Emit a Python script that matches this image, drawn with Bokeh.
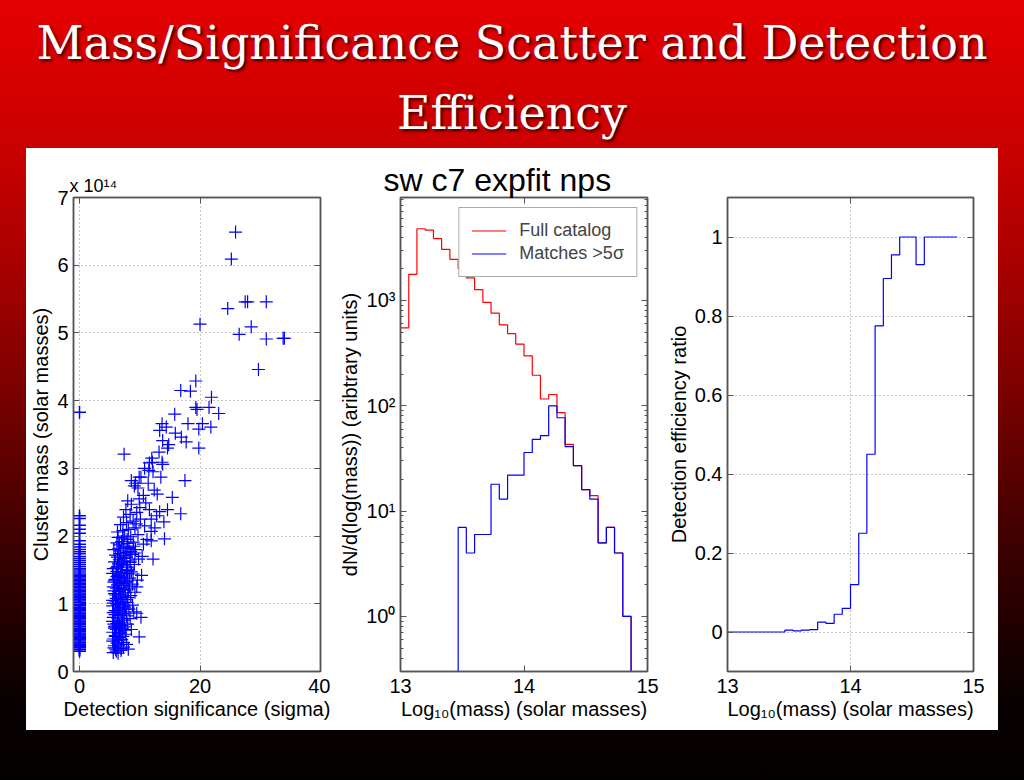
from bokeh.plotting import figure
from bokeh.layouts import column, row
from bokeh.models import (Div, Spacer, FixedTicker, Range1d, LinearAxis, LogAxis,
                          Legend, LegendItem, Title, CustomJSTickFormatter,
                          GlobalInlineStyleSheet)
from bokeh.embed import file_html
from bokeh.resources import INLINE

# ---------------- data ----------------
# Panel 1: clusters with zero detection significance (mass in 1e14 Msun)
zero_sig_mass = [0.30, 0.32, 0.33, 0.35, 0.37, 0.38, 0.40, 0.42, 0.43, 0.45, 0.47, 0.49,
                 0.50, 0.52, 0.54, 0.55, 0.57, 0.59, 0.61, 0.62, 0.64, 0.66, 0.67, 0.69,
                 0.71, 0.73, 0.74, 0.76, 0.78, 0.80, 0.81, 0.83, 0.85, 0.86, 0.88, 0.90,
                 0.92, 0.93, 0.95, 0.97, 0.99, 1.00, 1.02, 1.04, 1.06, 1.07, 1.09, 1.11,
                 1.13, 1.14, 1.16, 1.18, 1.20, 1.22, 1.24, 1.26, 1.28, 1.30, 1.32, 1.34,
                 1.36, 1.38, 1.40, 1.42, 1.44, 1.47, 1.50, 1.52, 1.55, 1.58, 1.61, 1.64,
                 1.67, 1.70, 1.74, 1.77, 1.80, 1.84, 1.88, 1.93, 2.04, 2.10, 2.16, 2.26,
                 2.30, 3.83]

# Panel 1: detected clusters (significance in sigma, mass in 1e14 Msun)
det_sigma = [5.6, 6.0, 6.4, 5.8, 6.9, 7.3, 5.5, 6.2, 7.0, 7.8, 6.6, 8.1, 5.9, 9.9,
             5.5, 6.1, 6.8, 7.4, 5.7, 6.3, 7.0, 8.0, 5.6, 6.5, 7.2, 8.4, 5.9, 6.7, 7.6, 9.0,
             5.5, 6.2, 10.2, 7.9, 8.8, 6.0, 7.7, 6.5, 5.8, 6.9, 5.6, 7.4, 8.6, 6.3, 7.1, 6.6, 9.5,
             5.5, 6.1, 6.9, 7.7, 8.5, 5.8, 6.5, 7.3, 8.1, 9.2, 5.6, 6.3, 7.0, 7.9, 8.8,
             5.9, 6.6, 7.5, 8.3, 9.6, 5.5, 6.2, 6.9, 7.8, 8.9, 10.3, 6.0, 7.2, 6.7, 8.0, 9.5,
             5.7, 7.4, 6.4,
             5.6, 6.3, 7.1, 8.0, 9.1, 5.8, 6.6, 7.4, 8.4, 9.8, 6.0, 6.8, 7.7, 8.7, 10.4,
             5.7, 6.5, 7.3, 8.2, 9.3, 6.2, 7.0, 7.9, 8.9, 10.6, 6.4, 7.5, 8.5, 9.7, 11.2,
             12.2, 14.1, 11.9, 6.9, 7.8, 9.0,
             6.3, 7.2, 8.1, 9.2, 10.8, 11.9, 6.8, 7.8, 8.9, 10.1, 11.9, 7.3, 8.4, 9.5, 11.6,
             13.3, 14.0, 14.6, 7.7, 8.6, 8.0, 10.0, 11.0, 12.8, 16.8, 9.4, 12.5,
             8.6, 9.1, 9.7, 9.9, 10.2, 12.4, 13.5, 15.4, 12.2, 11.6, 13.8, 10.6, 11.4, 17.5,
             9.9, 12.9, 10.8, 9.3, 11.5, 12.1, 13.7,
             7.4, 13.2, 14.6, 13.8, 17.7, 15.9, 16.9, 13.3, 14.4, 13.7, 15.8, 18.0, 19.8,
             19.8, 20.4, 21.8, 21.5, 19.3, 19.5, 23.1, 21.9, 16.8, 18.4, 19.3, 20.0, 24.6,
             25.2, 25.9, 27.5, 27.9, 31.0, 26.5, 28.5, 31.0, 33.8, 34.0, 29.7, 12.0, 14.8]
det_mass = [0.28, 0.33, 0.27, 0.38, 0.31, 0.36, 0.45, 0.42, 0.47, 0.40, 0.50, 0.33, 0.52, 0.51,
            0.58, 0.62, 0.60, 0.66, 0.70, 0.74, 0.72, 0.70, 0.80, 0.83, 0.85, 0.78, 0.90, 0.94, 0.92, 0.88,
            0.97, 1.00, 0.80, 1.02, 0.98, 0.67, 0.55, 0.56, 0.64, 0.79, 0.87, 0.97, 0.62, 0.88, 0.63, 0.69, 0.86,
            1.05, 1.08, 1.10, 1.06, 1.12, 1.15, 1.18, 1.20, 1.22, 1.17, 1.25, 1.28, 1.30, 1.33, 1.29,
            1.36, 1.39, 1.41, 1.38, 1.35, 1.45, 1.48, 1.46, 1.49, 1.44, 1.42, 1.13, 1.02, 1.24, 1.45, 1.25,
            1.32, 1.35, 1.42,
            1.52, 1.55, 1.57, 1.54, 1.58, 1.62, 1.65, 1.67, 1.63, 1.66, 1.72, 1.74, 1.76, 1.73, 1.70,
            1.80, 1.82, 1.85, 1.83, 1.80, 1.90, 1.92, 1.95, 1.91, 1.88, 1.98, 2.00, 1.99, 2.02, 1.95,
            1.66, 1.96, 1.93, 1.60, 1.69, 1.85,
            2.06, 2.08, 2.10, 2.12, 2.15, 2.07, 2.17, 2.20, 2.22, 2.25, 2.25, 2.28, 2.32, 2.35, 2.39,
            2.36, 2.21, 2.39, 2.39, 2.47, 2.52, 2.42, 2.49, 2.30, 2.33, 2.18, 2.12,
            2.82, 2.74, 2.71, 2.87, 2.87, 2.68, 2.87, 2.57, 2.95, 3.08, 3.06, 2.60, 2.78, 2.82,
            2.55, 2.62, 3.00, 2.78, 2.97, 3.09, 3.09,
            3.21, 3.24, 3.30, 3.41, 3.39, 3.52, 3.46, 3.56, 3.61, 3.66, 3.80, 3.66, 3.58,
            3.30, 3.66, 3.61, 3.90, 3.90, 3.87, 3.81, 4.05, 4.15, 4.14, 4.29, 5.13, 5.36,
            6.09, 6.49, 5.46, 5.46, 5.46, 4.98, 5.09, 4.91, 4.92, 4.92, 4.46, 3.15, 3.35]

# Panel 1: dense core of the detected cloud
core_sigma = [5.7, 6.1, 6.5, 6.9, 7.3, 5.6, 6.0, 6.4, 6.8, 7.2, 7.6,
              5.8, 6.2, 6.6, 7.0, 7.4, 7.8, 5.5, 5.9, 6.3, 6.7, 7.1, 7.5, 8.2,
              5.6, 6.0, 6.4, 6.8, 7.2, 7.6, 8.0, 5.7, 6.1, 6.5, 6.9, 7.3, 7.7, 8.3,
              5.8, 6.2, 6.6, 7.0, 7.4, 7.9, 8.6, 6.1, 6.5, 6.9, 7.3, 7.8, 8.4,
              6.3, 6.8, 7.3, 7.9, 8.5, 9.2, 6.6, 7.2, 8.0]
core_mass = [0.35, 0.30, 0.39, 0.34, 0.43, 0.48, 0.53, 0.46, 0.57, 0.52, 0.61,
             0.66, 0.71, 0.64, 0.68, 0.76, 0.82, 0.74, 0.84, 0.79, 0.91, 0.86, 0.95, 0.92,
             1.01, 1.04, 0.99, 1.07, 1.11, 1.16, 1.09, 1.19, 1.23, 1.14, 1.27, 1.21, 1.31, 1.26,
             1.34, 1.40, 1.32, 1.44, 1.37, 1.50, 1.47, 1.53, 1.59, 1.51, 1.63, 1.58, 1.61,
             1.69, 1.78, 1.71, 1.81, 1.77, 1.75, 1.87, 1.97, 1.89]

# Panel 2/3: log10 mass bin edges
mass_edges = [13.000, 13.067, 13.133, 13.200, 13.267, 13.333, 13.400, 13.467, 13.533,
              13.600, 13.667, 13.733, 13.800, 13.867, 13.933, 14.000, 14.067, 14.133,
              14.200, 14.267, 14.333, 14.400, 14.467, 14.533, 14.600, 14.667, 14.733,
              14.800, 14.867]
full_catalog = [550, 1770, 4800, 4650, 3870, 3050, 2460, 2010, 1640, 1270, 960, 757, 587,
                484, 385, 298, 195, 116, 128, 86, 43, 27, 16, 14, 5, 7, 4, 1]
matches_5sig = [0, 0, 0, 0, 0, 0, 0, 7, 4, 6, 6, 18, 13, 22, 22, 36, 48, 52, 100, 77, 41,
                27, 16, 13, 5, 7, 4, 1]
efficiency = [0, 0, 0, 0, 0, 0, 0, 0.005, 0.003, 0.005, 0.006, 0.025, 0.022, 0.045, 0.06,
              0.12, 0.25, 0.45, 0.775, 0.895, 0.955, 1.0, 1.0, 0.93, 1.0, 1.0, 1.0, 1.0]

mass_ticks1 = [0, 1, 2, 3, 4, 5, 6, 7]
sig_ticks = [0, 20, 40]
logm_ticks = [13, 14, 15]
count_ticks = [1, 10, 100, 1000]
eff_ticks = [0, 0.2, 0.4, 0.6, 0.8, 1]

# ---------------- style ----------------
FONT = "Liberation Sans"
AX = "#555555"
BLUE = "#0000ff"
RED = "#ff0000"
FLOOR = 1e-3
FS = "20px"


def style_axis(ax):
    ax.axis_line_color = AX
    ax.axis_line_width = 1.5
    ax.major_tick_line_color = AX
    ax.minor_tick_line_color = AX
    ax.major_tick_in = 6
    ax.major_tick_out = 0
    ax.minor_tick_in = 3
    ax.minor_tick_out = 0
    ax.major_label_text_font = FONT
    ax.major_label_text_font_size = FS
    ax.major_label_text_color = "black"
    ax.axis_label_text_font = FONT
    ax.axis_label_text_font_size = FS
    ax.axis_label_text_font_style = "normal"
    ax.axis_label_text_color = "black"
    ax.major_label_standoff = 5
    ax.axis_label_standoff = 2


def style(p, xlabel, ylabel, gridx=True, gridy=True):
    p.outline_line_color = AX
    p.outline_line_width = 1.5
    p.background_fill_color = "white"
    p.border_fill_color = "white"
    bx, ly = p.below[0], p.left[0]
    bx.axis_label = xlabel
    ly.axis_label = ylabel
    style_axis(bx)
    style_axis(ly)
    bx.major_label_standoff = 7
    for g, on in ((p.xgrid, gridx), (p.ygrid, gridy)):
        if on:
            g.grid_line_color = "#8a8a8a"
            g.grid_line_dash = "1 3"
            g.grid_line_width = 1
        else:
            g.grid_line_color = None


def mirror(p, xt, yt, log_y=False):
    ax_r = (LogAxis if log_y else LinearAxis)(ticker=yt)
    ax_t = LinearAxis(ticker=xt)
    for ax in (ax_r, ax_t):
        ax.formatter = CustomJSTickFormatter(code="return '';")
        ax.major_label_standoff = 0
        ax.major_label_text_font_size = "1px"
        ax.axis_line_color = AX
        ax.axis_line_width = 1.5
        ax.major_tick_line_color = AX
        ax.minor_tick_line_color = AX
        ax.major_tick_in = 6
        ax.major_tick_out = 0
        ax.minor_tick_in = 3
        ax.minor_tick_out = 0
    p.add_layout(ax_r, "right")
    p.add_layout(ax_t, "above")


def stairs(edges, counts, from_floor):
    xs, ys = [], []
    if from_floor:
        xs.append(edges[0]); ys.append(FLOOR)
    for i, c in enumerate(counts):
        v = c if c > 0 else FLOOR
        xs += [edges[i], edges[i + 1]]
        ys += [v, v]
    xs.append(edges[-1]); ys.append(FLOOR)
    return xs, ys


FH = 474
TOP = 49
BOT = 59

# ---------------- panel 1 ----------------
p1 = figure(frame_width=247, frame_height=FH, min_border_left=47, min_border_right=10,
            min_border_top=TOP, min_border_bottom=BOT,
            x_range=Range1d(-1, 40), y_range=Range1d(0, 7),
            toolbar_location=None, output_backend="svg")
xt1 = FixedTicker(ticks=sig_ticks, minor_ticks=[])
yt1 = FixedTicker(ticks=mass_ticks1, minor_ticks=[])
p1.xaxis.ticker = xt1
p1.yaxis.ticker = yt1
p1.xgrid.ticker = xt1
p1.ygrid.ticker = yt1
style(p1, "Detection significance (sigma)", "Cluster mass (solar masses)")
mirror(p1, xt1, yt1)
p1.scatter([0] * len(zero_sig_mass), zero_sig_mass, marker="cross", size=13,
           line_color=BLUE, line_width=1.5)
p1.scatter(det_sigma, det_mass, marker="cross", size=13, line_color=BLUE, line_width=1.2)
p1.scatter(core_sigma, core_mass, marker="cross", size=13, line_color=BLUE, line_width=1.2)
p1.add_layout(Title(text="x 10\u00b9\u2074", align="left", offset=-4, text_color="black",
                    text_font=FONT, text_font_size="18px", text_font_style="normal",
                    standoff=3), "above")

# ---------------- panel 2 ----------------
p2 = figure(frame_width=247, frame_height=FH, min_border_left=70, min_border_right=15,
            min_border_top=TOP, min_border_bottom=BOT, y_axis_type="log",
            x_range=Range1d(13, 15), y_range=Range1d(0.3, 9500),
            toolbar_location=None, output_backend="svg")
xt2 = FixedTicker(ticks=logm_ticks, minor_ticks=[])
minor_counts = [m * d for d in (0.1, 1, 10, 100, 1000) for m in range(2, 10)]
yt2 = FixedTicker(ticks=count_ticks, minor_ticks=minor_counts)
p2.xaxis.ticker = xt2
p2.yaxis.ticker = yt2
p2.yaxis.formatter = CustomJSTickFormatter(code="""
const sup = {"0": "\u2070", "1": "\u00b9", "2": "\u00b2", "3": "\u00b3", "4": "\u2074"};
const e = Math.round(Math.log10(tick));
return "10" + sup[String(e)];
""")
style(p2, "Log\u2081\u2080(mass) (solar masses)", "dN/d(log(mass)) (aribtrary units)",
      gridx=False, gridy=False)
mirror(p2, xt2, yt2, log_y=True)
rx, ry = stairs(mass_edges, full_catalog, from_floor=False)
bx, by = stairs(mass_edges, matches_5sig, from_floor=True)
r_red = p2.line(rx, ry, line_color=RED, line_width=1.2)
r_blue = p2.line(bx, by, line_color=BLUE, line_width=1.2)
leg = Legend(items=[LegendItem(label="Full catalog", renderers=[r_red]),
                    LegendItem(label="Matches >5\u03c3", renderers=[r_blue])],
             location="top_right", margin=10, padding=12, spacing=2,
             glyph_width=35, glyph_height=21, label_height=21, label_standoff=13,
             label_text_font=FONT, label_text_font_size="18px",
             border_line_color=AX, border_line_width=1.5,
             background_fill_color="white", background_fill_alpha=1)
p2.add_layout(leg)
p2.title.text = "sw c7 expfit nps"
p2.title.text_font = FONT
p2.title.text_font_size = "32px"
p2.title.text_font_style = "normal"
p2.title.text_color = "black"
p2.title.align = "left"
p2.title.offset = -17
p2.title.standoff = 0

# ---------------- panel 3 ----------------
p3 = figure(frame_width=246, frame_height=FH, min_border_left=65, min_border_right=25,
            min_border_top=TOP, min_border_bottom=BOT,
            x_range=Range1d(13, 15), y_range=Range1d(-0.1, 1.1),
            toolbar_location=None, output_backend="svg")
xt3 = FixedTicker(ticks=logm_ticks, minor_ticks=[])
yt3 = FixedTicker(ticks=eff_ticks, minor_ticks=[])
p3.xaxis.ticker = xt3
p3.yaxis.ticker = yt3
p3.yaxis.formatter = CustomJSTickFormatter(code="return String(tick);")
p3.xgrid.ticker = xt3
p3.ygrid.ticker = yt3
style(p3, "Log\u2081\u2080(mass) (solar masses)", "Detection efficiency ratio")
mirror(p3, xt3, yt3)
ex, ey = [], []
for i, v in enumerate(efficiency):
    ex += [mass_edges[i], mass_edges[i + 1]]
    ey += [v, v]
p3.line(ex, ey, line_color=BLUE, line_width=1.2)

# ---------------- page ----------------
title = Div(text=(
    '<div style="width:1024px;text-align:center;font-family:\'DejaVu Serif\';'
    'font-size:46px;line-height:70px;color:#ffffff;padding-top:8px;'
    'text-shadow:2px 2px 3px rgba(0,0,0,0.75);white-space:nowrap;">'
    'Mass/Significance Scatter and Detection<br>Efficiency</div>'),
    width=1024, height=148, margin=0)

plots = row(p1, p2, p3, spacing=0, styles={"background": "white"})
panel = row(Spacer(width=26, height=582), plots, spacing=0)

page = column(title, panel, width=1024, height=780, spacing=0,
              styles={"background": "linear-gradient(to bottom, #e40000 0%, #cc0000 18%, "
                                    "#a60000 35%, #760000 52%, #420000 68%, #1c0000 82%, "
                                    "#080000 90%, #050000 100%)"},
              stylesheets=[GlobalInlineStyleSheet(
                  css="html, body { margin: 0 !important; padding: 0; overflow: hidden; background: #050000; }")])

open("out.html", "w").write(file_html(page, INLINE))
